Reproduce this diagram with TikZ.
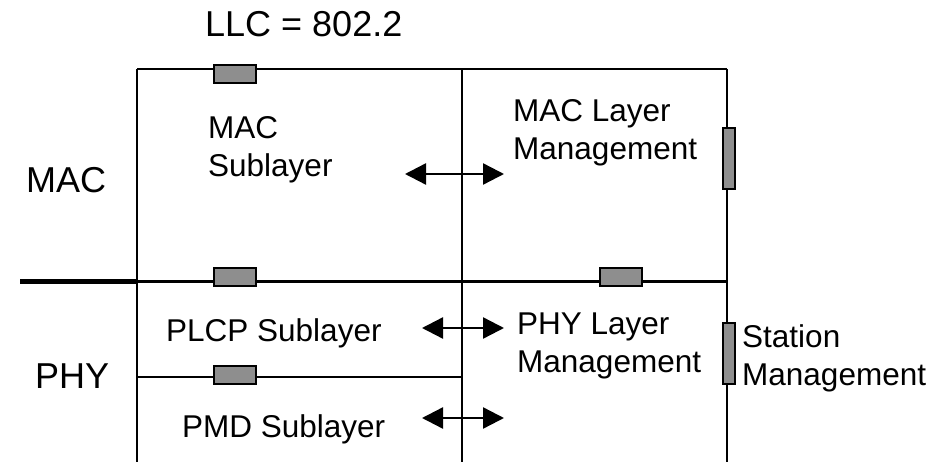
\documentclass[tikz,border=0pt]{standalone}
\usepackage{fontspec}
\setmainfont{Liberation Sans}
\usetikzlibrary{arrows.meta}
\definecolor{ink}{HTML}{000000}
\definecolor{port}{HTML}{8E8E8E}
\tikzset{
  >={Triangle[length=21pt,width=21pt]},
  wire/.style={draw=ink,line width=2.4pt},
  bus/.style={draw=ink,line width=5pt},
  portbox/.style={draw=ink,fill=port,line width=2pt,minimum width=42pt,minimum height=18pt,inner sep=0},
  vport/.style={portbox,minimum width=12pt,minimum height=61pt},
  arr/.style={<->,draw=ink,line width=2.4pt},
  lab/.style={inner sep=0,anchor=base west,align=left,font=\fontsize{31.5}{38}\selectfont},
  big/.style={lab,font=\fontsize{36}{43}\selectfont},
}
\begin{document}
\begin{tikzpicture}[x=1pt,y=-1pt]
  \useasboundingbox (0,0) rectangle (931,462);
  % frame
  \coordinate (tl) at (137,69); \coordinate (tm) at (462,69); \coordinate (tr) at (727,69);
  \coordinate (bl) at (137,462); \coordinate (bm) at (462,462); \coordinate (br) at (727,462);
  \coordinate (ml) at (137,281); \coordinate (mr) at (727,281); \coordinate (edge) at (20,281);
  \coordinate (sl) at (137,377); \coordinate (sm) at (462,377);
  \draw[wire] (tl) -- (tr);
  \draw[wire] (tl) -- (bl); \draw[wire] (tm) -- (bm); \draw[wire] (tr) -- (br);
  \draw[wire,line width=3pt] (ml) -- (mr);
  \draw[bus] (edge) -- (ml);
  \draw[wire] (sl) -- (sm);
  % service access points
  \node[portbox] (llc) at (235,74) {};
  \node[portbox] (macsap) at (235,277) {};
  \node[portbox] (mlmesap) at (620.5,277) {};
  \node[portbox] (physap) at (235,374.5) {};
  \node[vport] (smesap) at (729,158.5) {};
  \node[vport] (plmesap) at (729,353.5) {};
  % labels (base = last line)
  \node[big] (llctxt) at (205,37) {LLC = 802.2};
  \node[big] (mac) at (26,193) {MAC};
  \node[big] (phy) at (35,388) {PHY};
  \node[lab] (macsub) at (208,177) {MAC\\Sublayer};
  \node[lab] (mlme) at (513,160) {MAC Layer\\Management};
  \node[lab] (plcp) at (166,341) {PLCP Sublayer};
  \node[lab] (pmd) at (182,437) {PMD Sublayer};
  \node[lab] (plme) at (517,372) {PHY Layer\\Management};
  \node[lab] (sme) at (742,385) {Station\\Management};
  % primitives
  \coordinate (a1) at (405,174); \coordinate (b1) at (504,174);
  \coordinate (a2) at (422,328); \coordinate (b2) at (504,328);
  \coordinate (a3) at (422,418); \coordinate (b3) at (504,418);
  \draw[arr] (a1) -- (b1);
  \draw[arr] (a2) -- (b2);
  \draw[arr] (a3) -- (b3);
\end{tikzpicture}
\end{document}
